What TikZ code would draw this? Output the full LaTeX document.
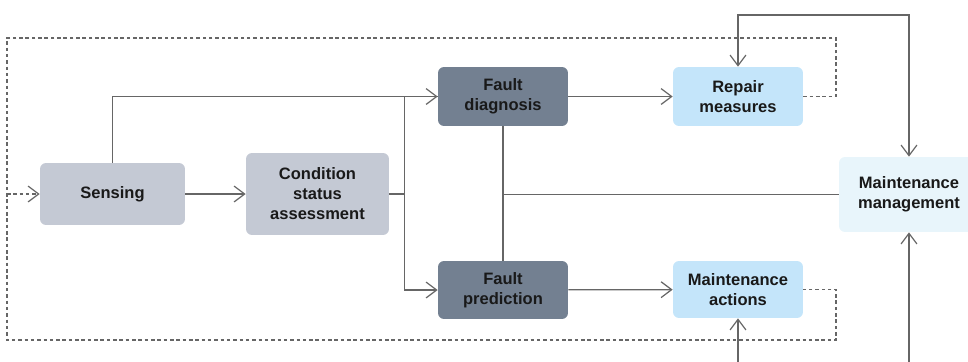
\documentclass[tikz,border=0pt]{standalone}
\usepackage{fontspec}
\setmainfont{Liberation Sans}
\usetikzlibrary{arrows.meta}
\usetikzlibrary{positioning}
\tikzset{box/.style = {rounded corners = 0.12cm, align = center, inner sep = 0,
    font = \fontsize{9.4}{11.4}\selectfont\bfseries, text = black!90}}
\tikzset{conn/.style = {draw = black!60, line width = 0.7pt}}
\tikzset{dashline/.style = {conn, dash pattern = on 2pt off 1.6pt}}
\definecolor{mgray}{rgb}{0.77, 0.79, 0.83}
\definecolor{mdark}{rgb}{0.45, 0.50, 0.57}
\definecolor{mlight}{rgb}{0.77, 0.90, 0.98}
\definecolor{mpale}{rgb}{0.91, 0.96, 0.985}

\begin{document}
\begin{tikzpicture}[x = 0.02cm, y = -0.02cm,
    >={Straight Barb[length = 6pt, width = 9pt]}]
    \useasboundingbox (0, 0) rectangle (968, 362);

    \node [box, fill=mgray, minimum width=2.9cm, minimum height=1.24cm] (sens) at (112.5, 194) {Sensing};
    \node [box, fill=mgray, minimum width=2.86cm, minimum height=1.64cm] (cond) at (317.5, 194) {Condition\\status\\assessment};
    \node [box, fill=mdark, minimum width=2.6cm, minimum height=1.18cm] (diag) at (503, 96.5) {Fault\\diagnosis};
    \node [box, fill=mdark, minimum width=2.6cm, minimum height=1.16cm] (pred) at (503, 290) {Fault\\prediction};
    \node [box, fill=mlight, minimum width=2.6cm, minimum height=1.18cm] (rep) at (738, 96.5) {Repair\\measures};
    \node [box, fill=mlight, minimum width=2.6cm, minimum height=1.14cm] (act) at (738, 289.5) {Maintenance\\actions};
    \node [box, fill=mpale, minimum width=2.8cm, minimum height=1.5cm] (mgmt) at (909, 194.5) {Maintenance\\management};

    \coordinate (top) at (0, 15);
    \coordinate (bot) at (0, 362);
    \coordinate (lp) at (7, 194);

    \draw [conn, ->] (sens.north) |- (diag.west);
    \draw [conn, ->] (sens) -- (cond);
    \draw [conn] (cond.east) -- ++(15, 0) coordinate (br);
    \draw [conn] (br) |- (diag.west);
    \draw [conn, ->] (br) |- (pred.west);
    \draw [conn, ->] (diag) -- (rep);
    \draw [conn, ->] (pred) -- (act);
    \draw [conn] (diag.south) -- (pred.north);
    \draw [conn] (diag.south |- mgmt.west) -- (mgmt.west);
    \draw [conn, <->] (rep.north) -- (rep.north |- top) -- (mgmt.north |- top) -- (mgmt.north);
    \draw [conn, ->] (act.south |- bot) -- (act.south);
    \draw [conn, ->] (mgmt.south |- bot) -- (mgmt.south);

    \draw [dashline] (rep.east) -| (836, 38) -| (7, 340) -| (836, 289.5) -- (act.east);
    \draw [dashline, ->] (lp) -- (sens.west);
  \end{tikzpicture}
\end{document}
